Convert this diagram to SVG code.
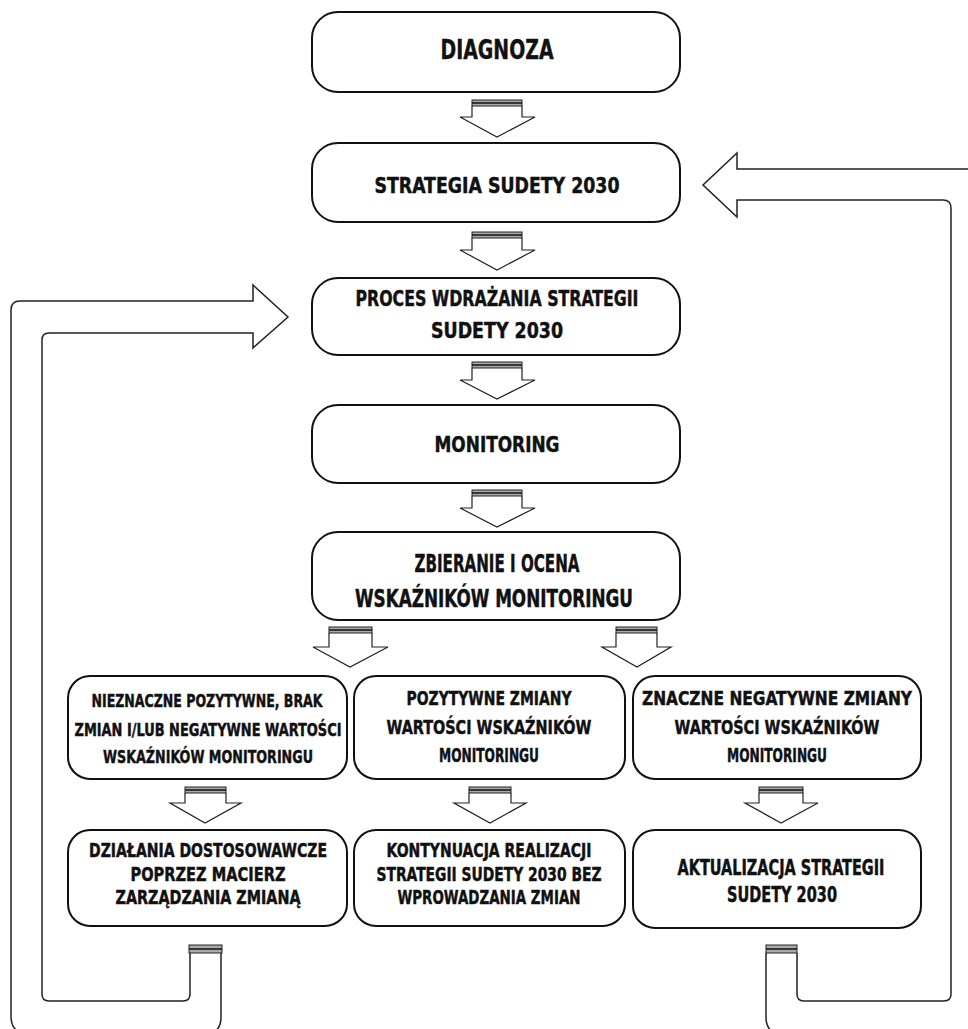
<svg xmlns="http://www.w3.org/2000/svg" width="968" height="1029" viewBox="0 0 968 1029">
<style>
.box{fill:#fff;stroke:#111;stroke-width:2}
.t{font-family:'Liberation Sans Narrow','DejaVu Sans Condensed','Roboto Condensed','Liberation Sans',sans-serif;font-weight:bold;font-stretch:condensed;fill:#111;stroke:#111;stroke-width:0.45;text-anchor:middle}
.arr{fill:#fff;stroke:#222;stroke-width:1.2;stroke-linejoin:miter}
.fb{fill:none;stroke:#222;stroke-width:1.5}
.stripe{fill:#aaa;stroke:#222;stroke-width:1}
.sl{stroke:#111;stroke-width:1.5}
</style>
<rect width="968" height="1029" fill="#fff"/>
<g id="connectors">
  <g id="a1"><path class="arr" d="M472,106 L472,117 L460,117 L497,137 L535,117 L522,117 L522,106"/><rect class="stripe" x="472" y="100" width="50" height="6"/><line class="sl" x1="472" y1="103" x2="522" y2="103"/></g>
  <g id="a2"><path class="arr" d="M472,238 L472,250 L460,250 L497,270 L535,250 L522,250 L522,238"/><rect class="stripe" x="472" y="232" width="50" height="6"/><line class="sl" x1="472" y1="235" x2="522" y2="235"/></g>
  <g id="a3"><path class="arr" d="M472,368 L472,380 L460,380 L497,399 L535,380 L522,380 L522,368"/><rect class="stripe" x="472" y="362" width="50" height="6"/><line class="sl" x1="472" y1="365" x2="522" y2="365"/></g>
  <g id="a4"><path class="arr" d="M472,496 L472,508 L460,508 L497,527 L535,508 L522,508 L522,496"/><rect class="stripe" x="472" y="490" width="50" height="6"/><line class="sl" x1="472" y1="493" x2="522" y2="493"/></g>
  <g id="a5l"><path class="arr" d="M329,633 L329,647 L313,647 L350,667 L388,647 L372,647 L372,633"/><rect class="stripe" x="329" y="627" width="43" height="6"/><line class="sl" x1="329" y1="630" x2="372" y2="630"/></g>
  <g id="a5r"><path class="arr" d="M616,633 L616,647 L602,647 L637,667 L671,647 L657,647 L657,633"/><rect class="stripe" x="616" y="627" width="41" height="6"/><line class="sl" x1="616" y1="630" x2="657" y2="630"/></g>
  <g id="a6l"><path class="arr" d="M185,793 L185,803 L170,803 L205,823 L241,803 L226,803 L226,793"/><rect class="stripe" x="185" y="787" width="41" height="6"/><line class="sl" x1="185" y1="790" x2="226" y2="790"/></g>
  <g id="a6m"><path class="arr" d="M469,793 L469,803 L454,803 L490,823 L526,803 L511,803 L511,793"/><rect class="stripe" x="469" y="787" width="42" height="6"/><line class="sl" x1="469" y1="790" x2="511" y2="790"/></g>
  <g id="a6r"><path class="arr" d="M759,793 L759,803 L745,803 L781,823 L818,803 L803,803 L803,793"/><rect class="stripe" x="759" y="787" width="44" height="6"/><line class="sl" x1="759" y1="790" x2="803" y2="790"/></g>
  <g id="fbl">
    <path class="fb" d="M190,953 L190,994 Q190,1001 183,1001 L49,1001 Q42,1001 42,994 L42,340 Q42,333 49,333 L253,333 L253,348 L288,317 L253,285 L253,301 L20,301 Q11,301 11,310 L11,1016 Q11,1034 29,1034 L204,1034 Q221,1034 221,1017 L221,953"/>
    <rect class="stripe" x="189" y="945" width="33" height="8"/><line class="sl" x1="189" y1="949" x2="222" y2="949"/>
  </g>
  <g id="fbr">
    <path class="fb" d="M797,953 L797,994 Q797,1001 804,1001 L944,1001 Q951,1001 951,994 L951,208 Q951,200 943,200 L737,200 L737,217 L703,185 L737,153 L737,169 L990,169 L990,1034 L783,1034 Q766,1034 766,1017 L766,953"/>
    <rect class="stripe" x="766" y="945" width="31" height="8"/><line class="sl" x1="766" y1="949" x2="797" y2="949"/>
  </g>
</g>
<g id="n_diagnoza"><rect class="box" x="312" y="12" width="368" height="80" rx="26"/><text class="t" x="497" y="59" font-size="27" textLength="113" lengthAdjust="spacingAndGlyphs">DIAGNOZA</text></g>
<g id="n_strategia"><rect class="box" x="312" y="143" width="368" height="79" rx="26"/><text class="t" x="497" y="193" font-size="21" textLength="245" lengthAdjust="spacingAndGlyphs">STRATEGIA SUDETY 2030</text></g>
<g id="n_proces"><rect class="box" x="312" y="278" width="368" height="77" rx="26"/><text class="t" x="497" y="306" font-size="22" textLength="283" lengthAdjust="spacingAndGlyphs">PROCES WDRAŻANIA STRATEGII</text><text class="t" x="497" y="338" font-size="22" textLength="132" lengthAdjust="spacingAndGlyphs">SUDETY 2030</text></g>
<g id="n_monitoring"><rect class="box" x="312" y="405" width="368" height="78" rx="26"/><text class="t" x="497" y="452" font-size="22" textLength="125" lengthAdjust="spacingAndGlyphs">MONITORING</text></g>
<g id="n_zbieranie"><rect class="box" x="312" y="532" width="368" height="88" rx="26"/><text class="t" x="497" y="572" font-size="24" textLength="165" lengthAdjust="spacingAndGlyphs">ZBIERANIE I OCENA</text><text class="t" x="494" y="607" font-size="24" textLength="278" lengthAdjust="spacingAndGlyphs">WSKAŹNIKÓW MONITORINGU</text></g>
<g id="n_r3l"><rect class="box" x="68" y="676" width="279" height="103" rx="22"/><text class="t" x="207" y="707" font-size="18" textLength="231" lengthAdjust="spacingAndGlyphs">NIEZNACZNE POZYTYWNE, BRAK</text><text class="t" x="208" y="736" font-size="17.5" textLength="267" lengthAdjust="spacingAndGlyphs">ZMIAN I/LUB NEGATYWNE WARTOŚCI</text><text class="t" x="208" y="763" font-size="18" textLength="210" lengthAdjust="spacingAndGlyphs">WSKAŹNIKÓW MONITORINGU</text></g>
<g id="n_r3m"><rect class="box" x="354" y="676" width="271" height="103" rx="22"/><text class="t" x="489" y="705" font-size="19" textLength="165" lengthAdjust="spacingAndGlyphs">POZYTYWNE ZMIANY</text><text class="t" x="489" y="734" font-size="19" textLength="205" lengthAdjust="spacingAndGlyphs">WARTOŚCI WSKAŹNIKÓW</text><text class="t" x="489" y="762" font-size="19" textLength="100" lengthAdjust="spacingAndGlyphs">MONITORINGU</text></g>
<g id="n_r3r"><rect class="box" x="633" y="676" width="288" height="103" rx="22"/><text class="t" x="777" y="705" font-size="19" textLength="270" lengthAdjust="spacingAndGlyphs">ZNACZNE NEGATYWNE ZMIANY</text><text class="t" x="777" y="734" font-size="19" textLength="205" lengthAdjust="spacingAndGlyphs">WARTOŚCI WSKAŹNIKÓW</text><text class="t" x="777" y="762" font-size="19" textLength="100" lengthAdjust="spacingAndGlyphs">MONITORINGU</text></g>
<g id="n_r4l"><rect class="box" x="68" y="830" width="279" height="96" rx="22"/><text class="t" x="208" y="857" font-size="19" textLength="238" lengthAdjust="spacingAndGlyphs">DZIAŁANIA DOSTOSOWAWCZE</text><text class="t" x="208" y="881" font-size="19" textLength="155" lengthAdjust="spacingAndGlyphs">POPRZEZ MACIERZ</text><text class="t" x="208" y="904" font-size="19" textLength="185" lengthAdjust="spacingAndGlyphs">ZARZĄDZANIA ZMIANĄ</text></g>
<g id="n_r4m"><rect class="box" x="354" y="830" width="271" height="96" rx="22"/><text class="t" x="489" y="857" font-size="19" textLength="205" lengthAdjust="spacingAndGlyphs">KONTYNUACJA REALIZACJI</text><text class="t" x="489" y="881" font-size="19" textLength="225" lengthAdjust="spacingAndGlyphs">STRATEGII SUDETY 2030 BEZ</text><text class="t" x="489" y="904" font-size="19" textLength="183" lengthAdjust="spacingAndGlyphs">WPROWADZANIA ZMIAN</text></g>
<g id="n_r4r"><rect class="box" x="633" y="830" width="288" height="98" rx="22"/><text class="t" x="781" y="875" font-size="21" textLength="207" lengthAdjust="spacingAndGlyphs">AKTUALIZACJA STRATEGII</text><text class="t" x="782" y="902" font-size="21" textLength="110" lengthAdjust="spacingAndGlyphs">SUDETY 2030</text></g>
</svg>
